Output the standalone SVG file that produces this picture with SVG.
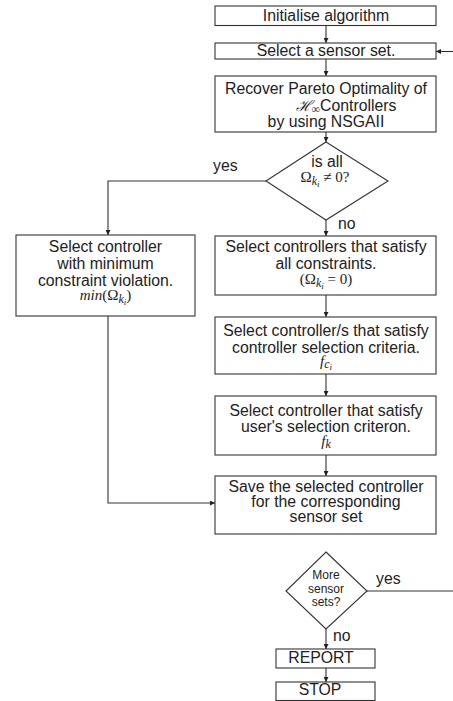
<svg xmlns="http://www.w3.org/2000/svg" width="453" height="701" viewBox="0 0 453 701">
<style>
.box{fill:#fff;stroke:#333;stroke-width:1.1}
.ln{fill:none;stroke:#333;stroke-width:1.1}
.t{font-family:"Liberation Sans",Arial,sans-serif;font-size:15.8px;fill:#222;text-anchor:middle}
.s{font-size:12px}
.lab{font-family:"Liberation Sans",Arial,sans-serif;font-size:15.8px;fill:#222}
.m{font-family:"Liberation Serif","DejaVu Serif",serif;font-size:15px}
.i{font-style:italic}
.sb{font-size:12px}
.ssb{font-size:9px}
</style>
<defs>
<marker id="ah" markerUnits="userSpaceOnUse" markerWidth="6" markerHeight="5" refX="5" refY="2.5" orient="auto">
<path d="M0,0 L5,2.5 L0,5 z" fill="#222"/>
</marker>
</defs>
<rect width="453" height="701" fill="#fff"/>
<g id="connectors">
<line class="ln" x1="326" y1="25.5" x2="326" y2="43" marker-end="url(#ah)"/>
<line class="ln" x1="326" y1="59" x2="326" y2="76" marker-end="url(#ah)"/>
<line class="ln" x1="326" y1="132" x2="326" y2="142" marker-end="url(#ah)"/>
<path class="ln" d="M266,181 H108 V235" marker-end="url(#ah)"/>
<line class="ln" x1="326" y1="220" x2="326" y2="236" marker-end="url(#ah)"/>
<line class="ln" x1="326" y1="295" x2="326" y2="317" marker-end="url(#ah)"/>
<line class="ln" x1="326" y1="374" x2="326" y2="396" marker-end="url(#ah)"/>
<line class="ln" x1="326" y1="455" x2="326" y2="476" marker-end="url(#ah)"/>
<path class="ln" d="M108,316 V503 H215" marker-end="url(#ah)"/>
<line class="ln" x1="326" y1="629" x2="326" y2="649" marker-end="url(#ah)"/>
<line class="ln" x1="326" y1="668" x2="326" y2="682" marker-end="url(#ah)"/>
<line class="ln" x1="367" y1="591" x2="453" y2="591"/>
<line class="ln" x1="453" y1="51.5" x2="436" y2="51.5" marker-end="url(#ah)"/>
<text class="lab" x="213" y="171">yes</text>
<text class="lab" x="338" y="229">no</text>
<text class="lab" x="376" y="584">yes</text>
<text class="lab" x="333" y="641">no</text>
</g>
<g id="init">
<rect class="box" x="215" y="6" width="221" height="19.5"/>
<text class="t" x="326" y="21">Initialise algorithm</text>
</g>
<g id="select-sensor">
<rect class="box" x="215" y="43" width="221" height="16"/>
<text class="t" x="326" y="56">Select a sensor set.</text>
</g>
<g id="recover">
<rect class="box" x="215" y="76" width="221" height="56"/>
<text class="t" x="326" y="94">Recover Pareto Optimality of</text>
<text class="t" x="346" y="111"><tspan class="m i" font-size="16">ℋ</tspan><tspan class="m sb" dy="2">∞</tspan><tspan dy="-2">Controllers</tspan></text>
<text class="t" x="326" y="127">by using NSGAII</text>
</g>
<g id="decision1">
<polygon class="box" points="326,142 388,181 326,220 266,181"/>
<text class="t" x="327" y="167">is all</text>
<text class="t" x="325" y="182"><tspan class="m">Ω</tspan><tspan class="m i sb" dy="3">k</tspan><tspan class="m i ssb" dy="2">i</tspan><tspan class="m" dy="-5"> ≠ 0?</tspan></text>
</g>
<g id="min-violation">
<rect class="box" x="16" y="235" width="179" height="81"/>
<text class="t" x="105.5" y="252">Select controller</text>
<text class="t" x="105.5" y="269">with minimum</text>
<text class="t" x="105.5" y="286">constraint violation.</text>
<text class="t" x="105.5" y="300"><tspan class="m i">min</tspan><tspan class="m">(Ω</tspan><tspan class="m i sb" dy="3">k</tspan><tspan class="m i ssb" dy="2">i</tspan><tspan class="m" dy="-5">)</tspan></text>
</g>
<g id="all-constraints">
<rect class="box" x="215" y="236" width="221" height="59"/>
<text class="t" x="326" y="252">Select controllers that satisfy</text>
<text class="t" x="326" y="269">all constraints.</text>
<text class="t" x="326" y="284"><tspan class="m">(Ω</tspan><tspan class="m i sb" dy="3">k</tspan><tspan class="m i ssb" dy="2">i</tspan><tspan class="m" dy="-5"> = 0)</tspan></text>
</g>
<g id="criteria">
<rect class="box" x="215" y="317" width="221" height="57"/>
<text class="t" x="326" y="336">Select controller/s that satisfy</text>
<text class="t" x="326" y="353">controller selection criteria.</text>
<text class="t" x="326" y="366"><tspan class="m i">f</tspan><tspan class="m i sb" dy="2">c</tspan><tspan class="m i ssb" dy="2">i</tspan></text>
</g>
<g id="user-criterion">
<rect class="box" x="215" y="396" width="221" height="59"/>
<text class="t" x="326" y="416">Select controller that satisfy</text>
<text class="t" x="326" y="432">user's selection criteron.</text>
<text class="t" x="326" y="446"><tspan class="m i">f</tspan><tspan class="m i sb" dy="2">k</tspan></text>
</g>
<g id="save">
<rect class="box" x="215" y="476" width="221" height="58"/>
<text class="t" x="326" y="492">Save the selected controller</text>
<text class="t" x="326" y="507">for the corresponding</text>
<text class="t" x="326" y="522">sensor set</text>
</g>
<g id="decision2">
<polygon class="box" points="326,552 367,591 326,629 286,591"/>
<text class="t s" x="326" y="579">More</text>
<text class="t s" x="326" y="593">sensor</text>
<text class="t s" x="326" y="606">sets?</text>
</g>
<g id="report">
<rect class="box" x="276" y="649" width="99" height="19"/>
<text class="t" x="321" y="663" font-size="14">REPORT</text>
</g>
<g id="stop">
<rect class="box" x="276" y="682" width="99" height="18.5"/>
<text class="t" x="320" y="695" font-size="14">STOP</text>
</g>
</svg>
